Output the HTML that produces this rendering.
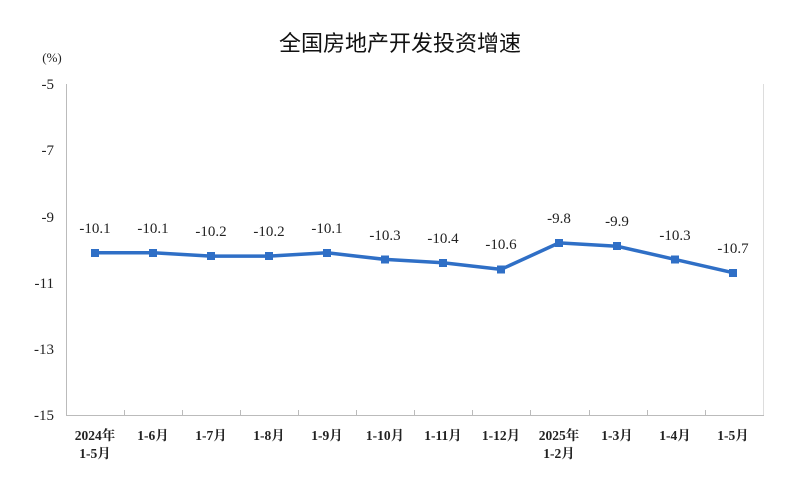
<!DOCTYPE html>
<html><head><meta charset="utf-8"><style>
body{margin:0;background:#fff;}
svg text{font-family:"Liberation Serif","Noto Serif CJK SC",serif;fill:#222;}
</style></head><body>
<svg width="800" height="479" viewBox="0 0 800 479" xmlns="http://www.w3.org/2000/svg">
<text x="400" y="51" text-anchor="middle" style="font-family:'Liberation Sans','Noto Sans CJK SC',sans-serif;font-size:22px;fill:#111">全国房地产开发投资增速</text>
<text x="52" y="62" text-anchor="middle" font-size="13">(%)</text>
<line x1="66.5" y1="84" x2="66.5" y2="415.5" stroke="#bbb"/>
<line x1="763.5" y1="84" x2="763.5" y2="415.5" stroke="#ddd"/>
<line x1="66" y1="415.5" x2="764" y2="415.5" stroke="#bbb"/>
<g font-size="15" text-anchor="end">
<text x="54" y="89">-5</text><text x="54" y="155">-7</text><text x="54" y="222">-9</text>
<text x="54" y="288">-11</text><text x="54" y="354">-13</text><text x="54" y="420">-15</text>
</g>
<g stroke="#bbb">
<line x1="124.5" y1="410" x2="124.5" y2="415"/><line x1="182.5" y1="410" x2="182.5" y2="415"/>
<line x1="240.5" y1="410" x2="240.5" y2="415"/><line x1="298.5" y1="410" x2="298.5" y2="415"/>
<line x1="356.5" y1="410" x2="356.5" y2="415"/><line x1="414.5" y1="410" x2="414.5" y2="415"/>
<line x1="472.5" y1="410" x2="472.5" y2="415"/><line x1="530.5" y1="410" x2="530.5" y2="415"/>
<line x1="589.5" y1="410" x2="589.5" y2="415"/><line x1="647.5" y1="410" x2="647.5" y2="415"/>
<line x1="705.5" y1="410" x2="705.5" y2="415"/>
</g>
<g font-size="13.5" text-anchor="middle" font-weight="bold" style="fill:#333">
<text x="95" y="440">2024年</text><text x="95" y="458">1-5月</text>
<text x="153" y="440">1-6月</text><text x="211" y="440">1-7月</text><text x="269" y="440">1-8月</text>
<text x="327" y="440">1-9月</text><text x="385" y="440">1-10月</text><text x="443" y="440">1-11月</text>
<text x="501" y="440">1-12月</text><text x="559" y="440">2025年</text><text x="559" y="458">1-2月</text>
<text x="617" y="440">1-3月</text><text x="675" y="440">1-4月</text><text x="733" y="440">1-5月</text>
</g>
<polyline fill="none" stroke="#2f6fc6" stroke-width="3.5" stroke-linejoin="round" points="95,252.8 153,252.8 211,256.1 269,256.1 327,252.8 385,259.4 443,262.7 501,269.4 559,242.9 617,246.2 675,259.4 733,272.7"/>
<g fill="#2f6fc6">
<rect x="91" y="249" width="8" height="8"/><rect x="149" y="249" width="8" height="8"/>
<rect x="207" y="252" width="8" height="8"/><rect x="265" y="252" width="8" height="8"/>
<rect x="323" y="249" width="8" height="8"/><rect x="381" y="255.5" width="8" height="8"/>
<rect x="439" y="259" width="8" height="8"/><rect x="497" y="265.5" width="8" height="8"/>
<rect x="555" y="239" width="8" height="8"/><rect x="613" y="242" width="8" height="8"/>
<rect x="671" y="255.5" width="8" height="8"/><rect x="729" y="269" width="8" height="8"/>
</g>
<g font-size="15" text-anchor="middle">
<text x="95" y="233">-10.1</text><text x="153" y="233">-10.1</text><text x="211" y="236">-10.2</text>
<text x="269" y="236">-10.2</text><text x="327" y="233">-10.1</text><text x="385" y="240">-10.3</text>
<text x="443" y="243">-10.4</text><text x="501" y="249">-10.6</text><text x="559" y="223">-9.8</text>
<text x="617" y="226">-9.9</text><text x="675" y="240">-10.3</text><text x="733" y="253">-10.7</text>
</g>
</svg>
</body></html>
